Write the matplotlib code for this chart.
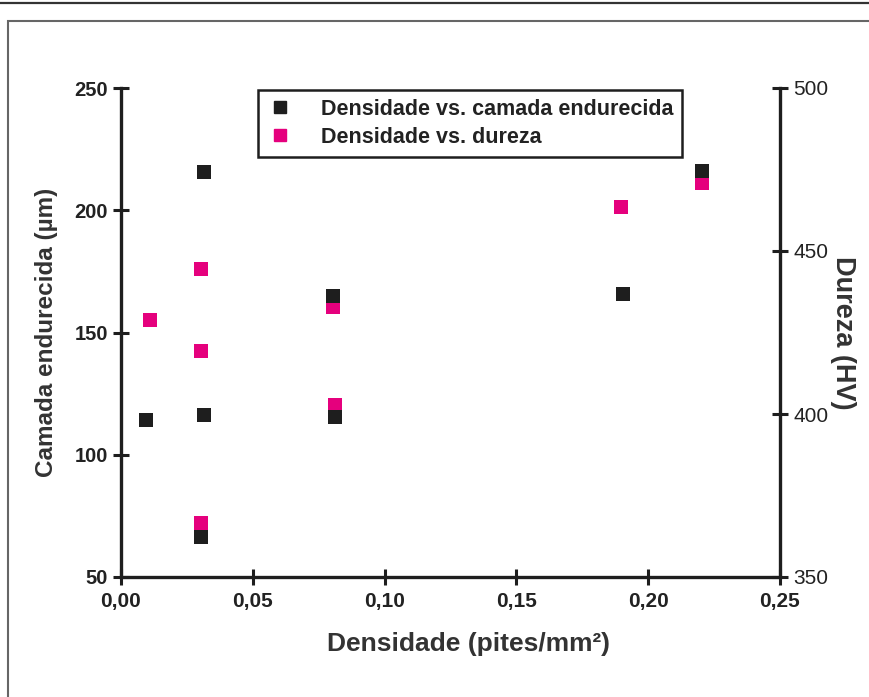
import matplotlib.pyplot as plt
from matplotlib.patches import Rectangle
from matplotlib.lines import Line2D
from matplotlib.ticker import FuncFormatter

# black series: density vs hardened layer (left axis)
dens_camada = [0.0095, 0.0315, 0.0315, 0.0305, 0.0805, 0.081, 0.1905, 0.2205]
camada = [114.2, 215.6, 116.2, 66.5, 164.9, 115.5, 165.7, 216.1]

# pink series: density vs hardness (right axis)
dens_dureza = [0.011, 0.0305, 0.0305, 0.0305, 0.0805, 0.081, 0.1895, 0.2205]
dureza = [428.8, 444.5, 419.3, 366.5, 432.8, 402.8, 463.6, 471.0]

x_ticks = [0.00, 0.05, 0.10, 0.15, 0.20, 0.25]
left_ticks = [50, 100, 150, 200, 250]
right_ticks = [350, 400, 450, 500]

black = "#1e1e1e"
pink = "#e5007d"
font = ["Liberation Sans", "DejaVu Sans"]

fig = plt.figure(figsize=(8.7, 6.97), dpi=100)

# page decorations: top rule and frame
fig.add_artist(Line2D([0, 1], [1 - 3 / 697, 1 - 3 / 697], color="#333333", lw=1.6,
                      transform=fig.transFigure))
fig.add_artist(Rectangle((8 / 870, -0.05), 1.0, 1 - 21 / 697 + 0.05, fill=False,
                         edgecolor="#666666", lw=1.5, transform=fig.transFigure))

ax = fig.add_axes([121 / 870, 1 - 577 / 697, 659 / 870, 489 / 697])
ax2 = ax.twinx()

ax.scatter(dens_camada, camada, marker="s", s=100, color=black, zorder=3, linewidths=0)
ax2.scatter(dens_dureza, dureza, marker="s", s=100, color=pink, zorder=2, linewidths=0)

ax.set_xlim(0, 0.25)
ax.set_ylim(50, 250)
ax2.set_ylim(350, 500)
ax.set_xticks(x_ticks)
ax.set_yticks(left_ticks)
ax2.set_yticks(right_ticks)
ax.xaxis.set_major_formatter(FuncFormatter(lambda v, p: f"{v:.2f}".replace(".", ",")))

for a in (ax, ax2):
    a.spines["top"].set_visible(False)
    for s in ("left", "right", "bottom"):
        a.spines[s].set_linewidth(2.4)
        a.spines[s].set_color(black)
    a.tick_params(direction="inout", length=12, width=2.2, color=black)
ax.spines["right"].set_visible(False)
ax2.spines["left"].set_visible(False)
ax2.spines["bottom"].set_visible(False)
ax.set_zorder(ax2.get_zorder() + 1)
ax.patch.set_visible(False)

for lab in ax.get_yticklabels():
    lab.set_fontfamily(font)
    lab.set_fontweight("bold")
    lab.set_fontsize(14.5)
    lab.set_color("#222222")
for lab in ax2.get_yticklabels():
    lab.set_fontfamily(font)
    lab.set_fontsize(15)
    lab.set_color("#222222")
for lab in ax.get_xticklabels():
    lab.set_fontfamily(font)
    lab.set_fontweight("bold")
    lab.set_fontsize(15)
    lab.set_color("#222222")
ax.tick_params(axis="x", pad=5)

ax.set_xlabel("Densidade (pites/mm²)", fontfamily=font, fontweight="bold",
              fontsize=19, color="#333333")
ax.xaxis.set_label_coords(0.527, -0.112)
ax.xaxis.label.set_verticalalignment("top")
ax.set_ylabel("Camada endurecida (µm)", fontfamily=font, fontweight="bold",
              fontsize=17.5, color="#333333", labelpad=12)
ax2.set_ylabel("Dureza (HV)", fontfamily=font, fontweight="bold",
               fontsize=19.5, color="#333333", rotation=-90, labelpad=20)

handles = [
    Line2D([], [], marker="s", ls="none", color=black, markersize=8.5),
    Line2D([], [], marker="s", ls="none", color=pink, markersize=8.5),
]
leg = ax.legend(handles, ["Densidade vs. camada endurecida", "Densidade vs. dureza"],
                loc="upper left", bbox_to_anchor=(0.208, 0.996), borderaxespad=0,
                fancybox=False, edgecolor=black, framealpha=1, borderpad=0.42,
                handlelength=1.2, handletextpad=1.3, labelspacing=0.32,
                prop={"family": font, "weight": "bold", "size": 15.5})
leg.get_frame().set_linewidth(1.8)
for t in leg.get_texts():
    t.set_color("#222222")

fig.savefig("out.png", dpi=100)
